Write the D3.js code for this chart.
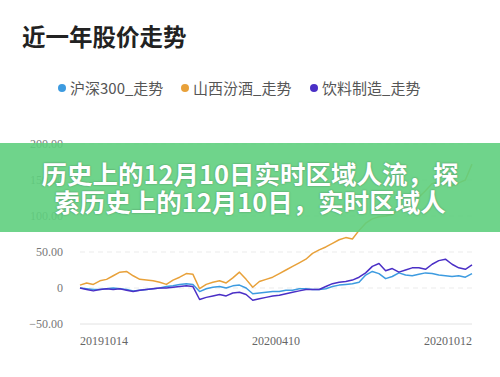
<!DOCTYPE html>
<html lang="zh">
<head>
<meta charset="UTF-8"/>
<title>近一年股价走势</title>
<script src="https://cdn.jsdelivr.net/npm/d3@7/dist/d3.min.js"></script>
<style>
body { margin: 0; background: #fff; }
svg { display: block; }
</style>
</head>
<body>
<svg id="viz"></svg>
<script>
var seriesNames = ["沪深300_走势", "山西汾酒_走势", "饮料制造_走势"];
var seriesColors = ["#3d9be0", "#e8a13a", "#4a2fc6"];

var hs300 = [0,-1,-2,-2,-1,0,-1,-2,-4,-3,-2,-1,0,2,3,5,6,5,-5,-1,
  1,2,0,3,4,0,-8,-7,-6,-5,-5,-3,-3,-1,-1,-2,-2,-1,2,4,
  5,6,8,18,23,20,13,16,21,18,17,19,21,20,18,17,16,17,15,20];
var fenjiu = [4,7,5,10,12,17,22,23,17,12,11,10,8,5,11,15,20,19,-1,5,
  8,10,7,14,22,12,1,9,12,15,20,25,30,35,40,48,53,57,62,67,
  70,68,80,90,96,99,100,102,110,117,120,126,135,145,148,146,142,146,150,172];
var yinliao = [0,-2,-4,-2,-1,-2,-1,-3,-5,-3,-2,-1,0,0,1,2,3,2,-16,-13,
  -11,-9,-11,-7,-6,-9,-17,-15,-13,-11,-10,-8,-6,-4,-2,-2,-2,2,6,8,
  9,11,15,21,30,34,24,27,22,25,28,28,26,33,38,40,33,28,26,32];

var yTicks = [-50, 0, 50, 100, 150, 200];
var xTickLabels = ["20191014", "20200410", "20201012"];

var width = 500, height = 377;
var svg = d3.select("#viz").attr("width", width).attr("height", height);

var x = d3.scaleLinear().domain([0, hs300.length - 1]).range([80, 472]);
var y = d3.scaleLinear().domain([-50, 200]).range([324, 144]);

// title
svg.append("text")
  .attr("x", 22).attr("y", 46)
  .attr("font-family", "'Noto Sans CJK SC', sans-serif")
  .attr("font-size", 23.5).attr("font-weight", "bold")
  .attr("fill", "#222")
  .text("近一年股价走势");

// legend
var legendX = [62, 185, 314];
var legend = svg.append("g");
seriesNames.forEach(function(name, i) {
  legend.append("circle")
    .attr("cx", legendX[i]).attr("cy", 88).attr("r", 4)
    .attr("fill", seriesColors[i]);
  legend.append("text")
    .attr("x", legendX[i] + 8).attr("y", 93.5)
    .attr("font-family", "'Noto Sans CJK SC', sans-serif")
    .attr("font-size", 15).attr("fill", "#555")
    .text(name);
});

// grid + y labels
var grid = svg.append("g");
yTicks.forEach(function(t) {
  grid.append("line")
    .attr("x1", 80).attr("x2", 472)
    .attr("y1", y(t)).attr("y2", y(t))
    .attr("stroke", t == -50 ? "#e2e2e2" : "#ebebeb")
    .attr("stroke-width", 1)
    .attr("stroke-dasharray", t == -50 ? null : "5,4");
  grid.append("text")
    .attr("x", 63).attr("y", y(t) + 4)
    .attr("text-anchor", "end")
    .attr("font-family", "'Liberation Serif', serif")
    .attr("font-size", 12).attr("fill", "#777")
    .text(t == 0 ? "0" : d3.format(".2f")(t));
});

// x labels
var xIdx = [0, (hs300.length - 1) / 2, hs300.length - 1];
var xAnchor = ["start", "middle", "end"];
xTickLabels.forEach(function(lbl, i) {
  svg.append("text")
    .attr("x", x(xIdx[i])).attr("y", 345)
    .attr("text-anchor", xAnchor[i])
    .attr("font-family", "'Liberation Serif', serif")
    .attr("font-size", 12).attr("fill", "#666")
    .text(lbl);
});

// lines
var line = d3.line()
  .x(function(d, i) { return x(i); })
  .y(function(d) { return y(d); });

[hs300, fenjiu, yinliao].forEach(function(s, i) {
  svg.append("path")
    .datum(s)
    .attr("fill", "none")
    .attr("stroke", seriesColors[i])
    .attr("stroke-width", 1.5)
    .attr("stroke-linejoin", "round")
    .attr("d", line);
});

// green banner on top
svg.append("rect")
  .attr("x", 0).attr("y", 143).attr("width", width).attr("height", 89)
  .attr("fill", "#5fcf7e").attr("opacity", 0.9);

var bannerLines = ["历史上的12月10日实时区域人流，探", "索历史上的12月10日，实时区域人"];
var bannerY = [184, 212];
bannerLines.forEach(function(t, i) {
  svg.append("text")
    .attr("x", 250).attr("y", bannerY[i])
    .attr("text-anchor", "middle")
    .attr("font-family", "'Noto Sans CJK SC', sans-serif")
    .attr("font-size", 25.5).attr("font-weight", "bold")
    .attr("fill", "#fff")
    .style("text-shadow", "0 0 2px rgba(0,0,0,0.35)")
    .text(t);
});
</script>
</body>
</html>
